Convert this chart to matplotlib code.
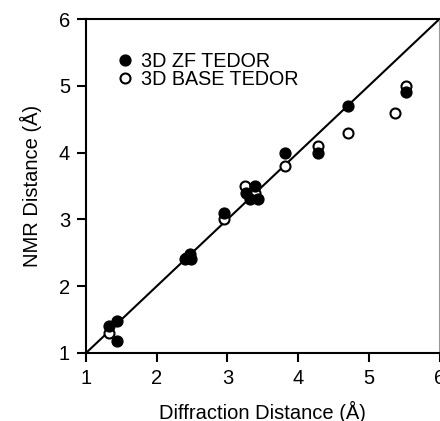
import matplotlib
matplotlib.use('Agg')
import matplotlib.pyplot as plt

plt.rcParams['font.family'] = ['Liberation Sans', 'DejaVu Sans']

# 3D ZF TEDOR (filled)
zf_x = [1.33, 1.44, 1.44, 2.40, 2.47, 2.48, 2.95, 3.27, 3.39, 3.32, 3.43, 3.82, 4.28, 4.70, 5.53]
zf_y = [1.40, 1.48, 1.18, 2.40, 2.48, 2.40, 3.10, 3.40, 3.50, 3.30, 3.30, 4.00, 4.00, 4.70, 4.90]

# 3D BASE TEDOR (open)
base_x = [1.33, 2.42, 2.95, 3.25, 3.39, 3.82, 4.28, 4.70, 5.37, 5.52]
base_y = [1.30, 2.42, 3.00, 3.50, 3.40, 3.80, 4.10, 4.30, 4.60, 5.00]

fig = plt.figure(figsize=(4.4, 4.21), dpi=100)
ax = fig.add_axes([86 / 440, 68 / 421, 353.5 / 440, 334 / 421])

ax.plot([1, 6], [1, 6], color='black', lw=1.5, zorder=1)
ax.plot(zf_x, zf_y, 'o', color='black', ms=7.8, label='3D ZF TEDOR', zorder=3)
ax.plot(base_x, base_y, 'o', mfc='white', mec='black', mew=1.5, ms=7.2,
        label='3D BASE TEDOR', zorder=2)

ax.set_xlim(1, 6)
ax.set_ylim(1, 6)
ax.set_xticks([1, 2, 3, 4, 5, 6])
ax.set_yticks([1, 2, 3, 4, 5, 6])
ax.tick_params(direction='out', length=6.5, width=1.5, labelsize=14.5, pad=5)
for s in ax.spines.values():
    s.set_linewidth(1.5)
ax.spines['right'].set_color('#999999')

ax.set_xlabel('Diffraction Distance (Å)', fontsize=14.5, labelpad=9)
ax.set_ylabel('NMR Distance (Å)', fontsize=14.5, labelpad=12)

ax.legend(loc='upper left', bbox_to_anchor=(0.06, 0.924), frameon=False,
          fontsize=14.2, handletextpad=0.3, labelspacing=-0.05,
          handlelength=1.0, borderaxespad=0)

fig.savefig('out.png', dpi=100)
